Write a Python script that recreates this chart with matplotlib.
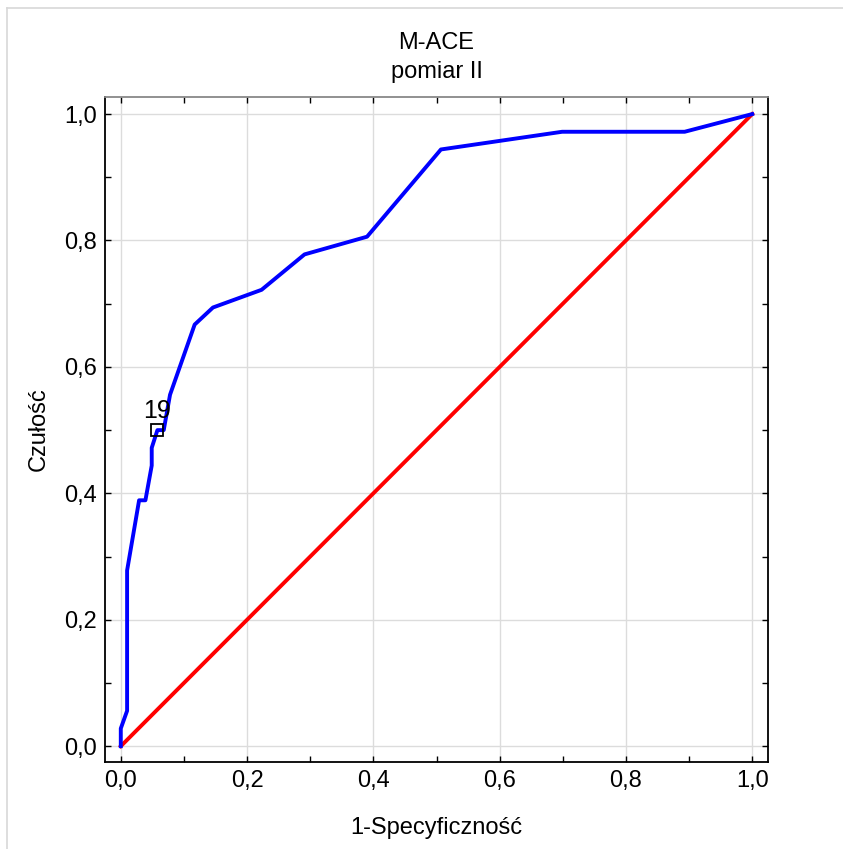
import matplotlib.pyplot as plt
import matplotlib.ticker as ticker
from matplotlib.lines import Line2D

plt.rcParams.update({
    "font.family": ["Liberation Sans Narrow", "Liberation Sans", "DejaVu Sans"],
    "font.size": 16,
})

# ROC curve points (1-specificity, sensitivity)
fpr = [0.0, 0.0, 0.010, 0.010, 0.029, 0.039, 0.049, 0.049, 0.058, 0.068,
       0.078, 0.117, 0.146, 0.223, 0.291, 0.390, 0.507, 0.699, 0.893, 1.0]
tpr = [0.0, 0.028, 0.056, 0.278, 0.389, 0.389, 0.444, 0.472, 0.500, 0.500,
       0.556, 0.667, 0.694, 0.722, 0.778, 0.806, 0.944, 0.972, 0.972, 1.0]
cut_x, cut_y, cut_label = 0.058, 0.500, "19"
ref_line = [0.0, 1.0]

fig = plt.figure(figsize=(8.43, 8.49), dpi=100)
ax = fig.add_axes([105 / 843, 1 - 762 / 849, 663 / 843, 665 / 849])

ax.grid(True, color="#dcdcdc", linewidth=1.0, zorder=0)
ax.set_axisbelow(True)
ax.plot(ref_line, ref_line, color="#ff0000", linewidth=2.8, zorder=3)
ax.plot(fpr, tpr, color="#0000ff", linewidth=2.8, zorder=4)
ax.plot([cut_x], [cut_y], marker="s", markersize=8, markerfacecolor="none",
        markeredgecolor="black", markeredgewidth=1.3, linestyle="none", zorder=5)
ax.text(cut_x, cut_y + 0.012, cut_label, ha="center", va="bottom", fontsize=18, zorder=6)

ax.set_xlim(-0.025, 1.025)
ax.set_ylim(-0.025, 1.027)
ax.xaxis.set_major_locator(ticker.MultipleLocator(0.2))
ax.yaxis.set_major_locator(ticker.MultipleLocator(0.2))
ax.xaxis.set_minor_locator(ticker.MultipleLocator(0.1))
ax.yaxis.set_minor_locator(ticker.MultipleLocator(0.1))
fmt = ticker.FuncFormatter(lambda v, _: f"{v:.1f}".replace(".", ","))
ax.xaxis.set_major_formatter(fmt)
ax.yaxis.set_major_formatter(fmt)
ax.tick_params(which="both", direction="in", length=4.5, width=1.0,
               top=True, right=True, labelsize=17)
ax.tick_params(axis="x", pad=6)
ax.tick_params(axis="y", pad=6)

for side in ["left", "bottom", "right"]:
    ax.spines[side].set_linewidth(1.3)
    ax.spines[side].set_color("black")
ax.spines["top"].set_color("#888888")
ax.spines["top"].set_linewidth(1.3)

ax.set_xlabel("1-Specyficzność", fontsize=17, labelpad=18)
ax.set_ylabel("Czułość", fontsize=17, labelpad=10)
ax.set_title("M-ACE\npomiar II", fontsize=17, pad=14, linespacing=1.4)

# thin gray frame round the figure
fig.add_artist(Line2D([7 / 843, 7 / 843], [0, 1 - 8 / 849], color="#d8d8d8",
                      linewidth=1.2, transform=fig.transFigure))
fig.add_artist(Line2D([7 / 843, 1], [1 - 8 / 849, 1 - 8 / 849], color="#d8d8d8",
                      linewidth=1.2, transform=fig.transFigure))

fig.savefig("out.png", dpi=100)
